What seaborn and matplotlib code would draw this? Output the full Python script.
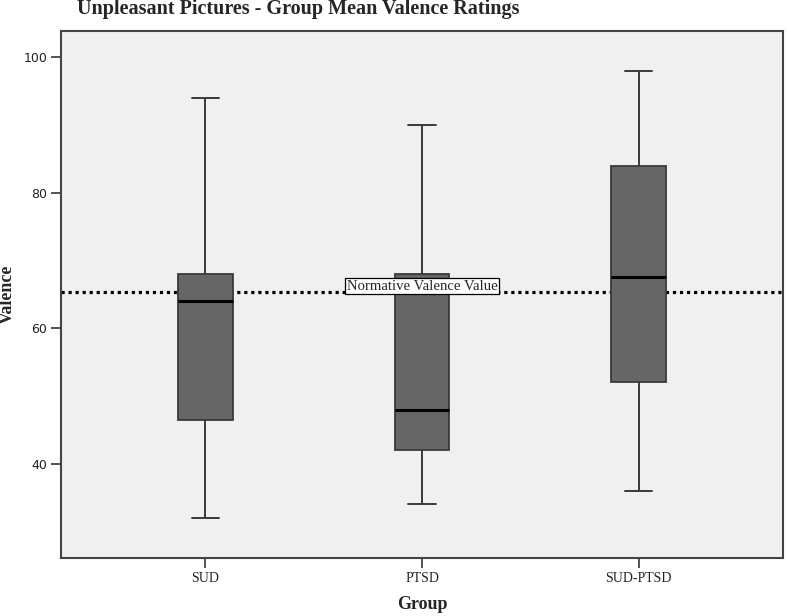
import numpy as np
import pandas as pd
import matplotlib
matplotlib.use("Agg")
import matplotlib.pyplot as plt
import seaborn as sns

# Five-number summaries (min, Q1, median, Q3, max)
groups = ["SUD", "PTSD", "SUD-PTSD"]
sud_values = [32, 46.5, 64, 68, 94]
ptsd_values = [34, 42, 48, 68, 90]
sudptsd_values = [36, 52, 67.5, 84, 98]
normative_value = 65.3
y_ticks = [40, 60, 80, 100]

df = pd.DataFrame({
    "Group": [groups[0]] * len(sud_values) + [groups[1]] * len(ptsd_values) + [groups[2]] * len(sudptsd_values),
    "Valence": sud_values + ptsd_values + sudptsd_values,
})

sns.set_style("white")
plt.rcParams["font.family"] = ["Liberation Serif", "DejaVu Serif"]

fig = plt.figure(figsize=(7.87, 6.16), dpi=100)
ax = fig.add_axes([61 / 787, 1 - 558 / 616, (783 - 61) / 787, (558 - 31) / 616])
ax.set_facecolor("#f0f0f0")

edge = "#3a3a3a"
sns.boxplot(data=df, x="Group", y="Valence", order=groups, ax=ax,
            color="#666666", saturation=1, width=0.252, whis=np.inf,
            linecolor=edge, linewidth=1.3,
            medianprops=dict(color="black", linewidth=2.2),
            whiskerprops=dict(color=edge, linewidth=1.4),
            capprops=dict(color=edge, linewidth=1.4))

ax.axhline(normative_value, color="black", linewidth=2.3, linestyle=(0, (1, 1.2)), zorder=1.5)
ax.text(1, normative_value + 0.9, "Normative Valence Value", ha="center", va="center",
        fontsize=10.6, family=["Liberation Serif"],
        bbox=dict(boxstyle="square,pad=0.1", facecolor="white", edgecolor="black", linewidth=0.9),
        zorder=5)

ax.set_xlim(-0.667, 2.667)
ax.set_ylim(26.1, 103.85)
ax.set_yticks(y_ticks)
ax.set_yticklabels([str(t) for t in y_ticks], family=["DejaVu Sans"], fontsize=9, color="#222222")
ax.set_xticks(range(len(groups)))
ax.set_xticklabels(groups, family=["Liberation Serif"], fontsize=10, color="#222222")
ax.tick_params(axis="both", direction="out", length=7, width=1.3, color="#444444",
               left=True, bottom=True, pad=3)

for side in ["left", "right", "top", "bottom"]:
    ax.spines[side].set_visible(True)
    ax.spines[side].set_color("#444444")
    ax.spines[side].set_linewidth(1.5)

ax.set_xlabel("Group", fontsize=13, fontweight="bold", labelpad=8)
ax.set_ylabel("Valence", fontsize=13, fontweight="bold")
ax.yaxis.set_label_coords(-0.0625, 0.5)

fig.text(77 / 787, 1 - 9 / 616, "Unpleasant Pictures - Group Mean Valence Ratings",
         ha="left", va="center", fontsize=14.5, fontweight="bold")

fig.savefig("out.png", dpi=100)
